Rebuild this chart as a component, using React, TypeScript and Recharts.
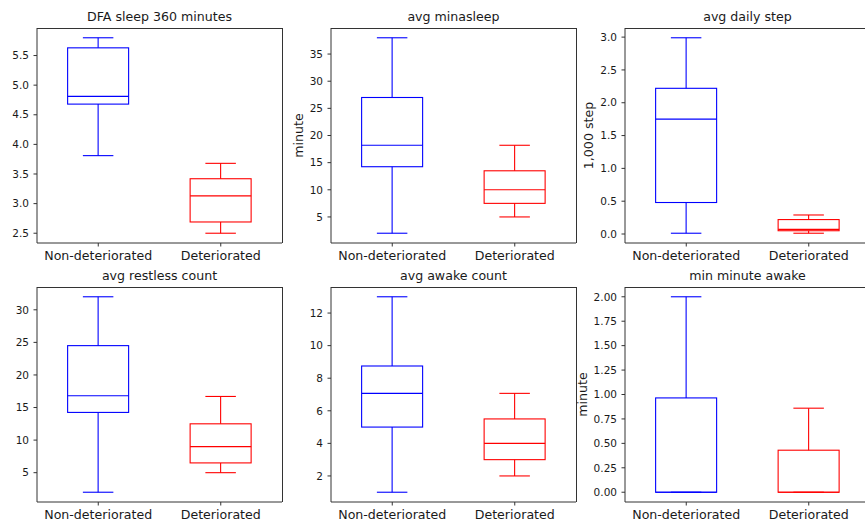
import React from 'react';
import { ComposedChart, Bar, XAxis, YAxis } from 'recharts';

// ---------- data ----------
const categories = ['Non-deteriorated', 'Deteriorated'];

// stats order: [min, q1, median, q3, max]
const dfaNonDet = [3.81, 4.68, 4.81, 5.63, 5.8];
const dfaDet = [2.5, 2.69, 3.13, 3.42, 3.68];
const dfaTicks = [2.5, 3.0, 3.5, 4.0, 4.5, 5.0, 5.5];

const minasleepNonDet = [2.0, 14.25, 18.2, 27.0, 38.0];
const minasleepDet = [5.0, 7.5, 10.0, 13.5, 18.2];
const minasleepTicks = [5, 10, 15, 20, 25, 30, 35];

const stepNonDet = [0.012, 0.48, 1.75, 2.22, 2.99];
const stepDet = [0.012, 0.05, 0.07, 0.22, 0.29];
const stepTicks = [0.0, 0.5, 1.0, 1.5, 2.0, 2.5, 3.0];

const restlessNonDet = [2.0, 14.25, 16.8, 24.5, 32.0];
const restlessDet = [5.0, 6.5, 9.0, 12.5, 16.7];
const restlessTicks = [5, 10, 15, 20, 25, 30];

const awakeNonDet = [1.0, 5.0, 7.07, 8.75, 13.0];
const awakeDet = [2.0, 3.0, 4.0, 5.5, 7.07];
const awakeTicks = [2, 4, 6, 8, 10, 12];

const minAwakeNonDet = [0.0, 0.0, 0.0, 0.965, 2.0];
const minAwakeDet = [0.0, 0.0, 0.0, 0.43, 0.86];
const minAwakeTicks = [0.0, 0.25, 0.5, 0.75, 1.0, 1.25, 1.5, 1.75, 2.0];

const titles = [
  'DFA sleep 360 minutes',
  'avg minasleep',
  'avg daily step',
  'avg restless count',
  'avg awake count',
  'min minute awake',
];

// ---------- styles ----------
const BOX_COLORS = ['#0000ff', '#ff0000'];
const SPINE = '#333333';
const TEXT = '#1a1a1a';
const FONT = "'DejaVu Sans', sans-serif";
const BIG = 12.6;
const SMALL = 10.5;

const toRows = (a: number[], b: number[]) =>
  categories.map((name, i) => {
    const s = i === 0 ? a : b;
    return { name, min: s[0], q1: s[1], median: s[2], q3: s[3], max: s[4] };
  });

const withMargin = (a: number[], b: number[]): [number, number] => {
  const lo = Math.min(...a, ...b);
  const hi = Math.max(...a, ...b);
  const pad = (hi - lo) * 0.05;
  return [lo - pad, hi + pad];
};

const BoxShape = (props: any) => {
  const { x, y, width, height, payload, index } = props;
  const { min, q1, median, q3, max } = payload;
  const span = max - min;
  const py = (v: number) => (span === 0 ? y : y + ((max - v) / span) * height);
  const cx = x + width / 2;
  const cap = width / 4;
  const color = BOX_COLORS[index % BOX_COLORS.length];
  return (
    <g stroke={color} fill="none" strokeWidth={1.1}>
      <line x1={cx} x2={cx} y1={py(max)} y2={py(q3)} />
      <line x1={cx} x2={cx} y1={py(q1)} y2={py(min)} />
      <line x1={cx - cap} x2={cx + cap} y1={py(max)} y2={py(max)} />
      <line x1={cx - cap} x2={cx + cap} y1={py(min)} y2={py(min)} />
      <rect x={x} y={py(q3)} width={width} height={Math.max(py(q1) - py(q3), 0)} />
      <line x1={x} x2={x + width} y1={py(median)} y2={py(median)} />
    </g>
  );
};

const PLOT_W = 245;
const PLOT_H = 215;

type PanelProps = {
  title: string;
  a: number[];
  b: number[];
  ticks: number[];
  decimals: number;
  left: number;
  top: number;
  yLabel?: string;
  yAxisW: number;
};

const Panel = ({ title, a, b, ticks, decimals, left, top, yLabel, yAxisW }: PanelProps) => {
  const data = toRows(a, b);
  const domain = withMargin(a, b);
  const width = yAxisW + PLOT_W + 1;
  const height = 1 + PLOT_H + 30;
  return (
    <>
      <div
        style={{
          position: 'absolute',
          left: left - 20,
          top: top - 19.5,
          width: PLOT_W + 40,
          height: 16,
          lineHeight: '16px',
          fontSize: BIG,
          textAlign: 'center',
          color: TEXT,
          fontFamily: FONT,
          whiteSpace: 'nowrap',
        }}
      >
        {title}
      </div>
      <div style={{ position: 'absolute', left: left - yAxisW, top: top - 1 }}>
        <ComposedChart
          width={width}
          height={height}
          data={data}
          margin={{ top: 1, right: 1, left: 0, bottom: 0 }}
          barCategoryGap="25%"
        >
          <XAxis
            dataKey="name"
            interval={0}
            tickSize={3.5}
            tickMargin={5}
            height={30}
            axisLine={{ stroke: SPINE, strokeWidth: 1 }}
            tickLine={{ stroke: SPINE }}
            tick={{ fontSize: BIG, fill: TEXT, fontFamily: FONT }}
          />
          <YAxis
            type="number"
            domain={domain}
            allowDataOverflow
            ticks={ticks}
            interval={0}
            width={yAxisW}
            tickSize={3.5}
            tickMargin={4.5}
            tickFormatter={(v: number) => v.toFixed(decimals)}
            axisLine={{ stroke: SPINE, strokeWidth: 1 }}
            tickLine={{ stroke: SPINE }}
            tick={{ fontSize: SMALL, fill: TEXT, fontFamily: FONT }}
            label={
              yLabel
                ? { value: yLabel, angle: -90, position: 'center', fontSize: BIG, fill: TEXT, fontFamily: FONT }
                : undefined
            }
          />
          <Bar
            dataKey={(d: any) => [d.min, d.max]}
            shape={<BoxShape />}
            isAnimationActive={false}
          />
        </ComposedChart>
      </div>
      <div
        style={{
          position: 'absolute',
          left,
          top: top - 0.5,
          width: PLOT_W + 0.5,
          height: PLOT_H,
          borderTop: `1px solid ${SPINE}`,
          borderRight: `1px solid ${SPINE}`,
          boxSizing: 'border-box',
          pointerEvents: 'none',
        }}
      />
    </>
  );
};

const COL_LEFT = [37, 331, 625];
const ROW_TOP = [28, 287];

export default function App() {
  return (
    <div
      style={{
        position: 'absolute',
        left: 0,
        top: 0,
        width: 865,
        height: 523,
        overflow: 'hidden',
        background: '#ffffff',
        fontFamily: FONT,
      }}
    >
      <Panel title={titles[0]} a={dfaNonDet} b={dfaDet} ticks={dfaTicks} decimals={1} left={COL_LEFT[0]} top={ROW_TOP[0]} yAxisW={40} />
      <Panel title={titles[1]} a={minasleepNonDet} b={minasleepDet} ticks={minasleepTicks} decimals={0} left={COL_LEFT[1]} top={ROW_TOP[0]} yLabel="minute" yAxisW={64} />
      <Panel title={titles[2]} a={stepNonDet} b={stepDet} ticks={stepTicks} decimals={1} left={COL_LEFT[2]} top={ROW_TOP[0]} yLabel="1,000 step" yAxisW={72} />
      <Panel title={titles[3]} a={restlessNonDet} b={restlessDet} ticks={restlessTicks} decimals={0} left={COL_LEFT[0]} top={ROW_TOP[1]} yAxisW={40} />
      <Panel title={titles[4]} a={awakeNonDet} b={awakeDet} ticks={awakeTicks} decimals={0} left={COL_LEFT[1]} top={ROW_TOP[1]} yAxisW={40} />
      <Panel title={titles[5]} a={minAwakeNonDet} b={minAwakeDet} ticks={minAwakeTicks} decimals={2} left={COL_LEFT[2]} top={ROW_TOP[1]} yLabel="minute" yAxisW={84} />
    </div>
  );
}
